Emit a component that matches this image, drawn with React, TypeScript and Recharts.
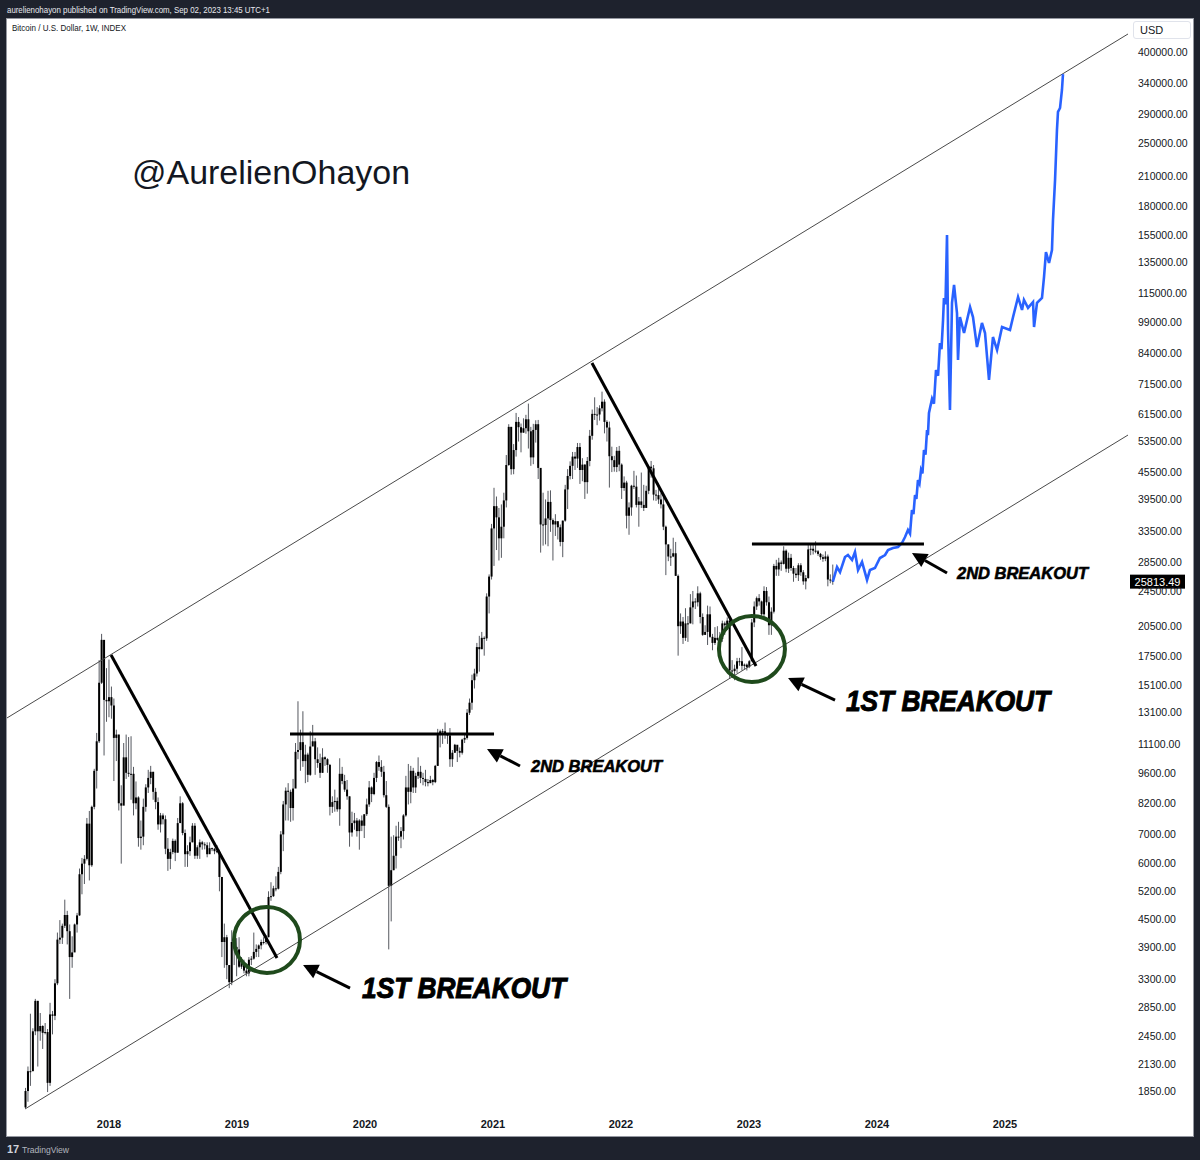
import React from 'react';
import { ComposedChart, Bar, Line, XAxis, YAxis, ReferenceLine, ReferenceDot } from 'recharts';

type HLC = [number, number, number];

// weekly candles [high, low, close]; first week starts Mon 8 May 2017, open = previous close
const firstOpen = 1700;

const weeks2017: HLC[] = [
  [1880, 1690, 1850], [2100, 1750, 2050], [2760, 1900, 2050], [2560, 2050, 2520],
  [2980, 2470, 2950], [2950, 2100, 2520], [2770, 2400, 2590], [2600, 2300, 2500],
  [2630, 2480, 2510], [2550, 1840, 1930], [2920, 1900, 2750], [2800, 2480, 2730], [3300, 2670, 3230],
  [4200, 3200, 4050], [4480, 3960, 4090], [4400, 3960, 4350], [4980, 4300, 4600],
  [4700, 3950, 4230], [4380, 2980, 3700], [4120, 3500, 3790], [4400, 3850, 4380],
  [4650, 4200, 4590], [5850, 4580, 5680], [6180, 5120, 6000], [6270, 5400, 6150], [7600, 6100, 7380],
  [7880, 5500, 5950], [8100, 5900, 8050], [9800, 7950, 9700], [11800, 8850, 11300],
  [17200, 11200, 15300], [19700, 15200, 19100], [19000, 10500, 14000], [16500, 12500, 13900],
];

const weeks2018: HLC[] = [
  [17250, 12800, 14200], [15000, 12700, 13600], [14100, 9200, 11500], [12000, 10200, 11700], [11700, 7900, 8200],
  [9000, 6000, 8100], [11200, 8200, 10400], [11700, 9300, 9600], [11550, 9400, 9550],
  [11600, 8350, 9550], [9900, 7700, 8200], [9180, 7950, 8450], [8500, 6550, 6850],
  [7500, 6450, 6900], [8400, 6600, 8050], [9050, 7850, 8900], [9750, 8650, 9350], [9950, 9050, 9650],
  [9650, 8350, 8700], [8880, 7950, 8250], [8450, 7150, 7350], [7800, 7050, 7700],
  [7780, 7350, 7550], [7700, 6300, 6480], [6850, 5780, 6150], [6480, 5830, 6370],
  [6830, 6300, 6750], [6800, 6080, 6350], [7600, 6350, 7400], [8500, 7450, 8200], [8250, 6950, 7030],
  [7160, 5900, 6300], [6600, 5900, 6400], [6900, 6250, 6700], [7400, 6700, 7300],
  [7400, 6150, 6250], [6600, 6150, 6530], [6800, 6150, 6700], [6750, 6450, 6630],
  [6700, 6460, 6600], [6700, 6200, 6300], [6700, 6400, 6500], [6520, 6400, 6480], [6500, 6300, 6400],
  [6600, 6330, 6380], [6450, 5200, 5600], [5600, 3700, 4000], [4400, 3500, 4100],
  [4150, 3300, 3550], [3550, 3150, 3250], [4250, 3200, 4000], [4200, 3550, 3900], [4080, 3350, 3850],
];

const weeks2019: HLC[] = [
  [4100, 3500, 3520], [3700, 3480, 3600], [3650, 3400, 3450], [3500, 3350, 3400],
  [3700, 3350, 3650], [3720, 3550, 3670], [4200, 3650, 3800], [3950, 3700, 3860],
  [3950, 3700, 3930], [4050, 3850, 4000], [4100, 3950, 4000], [4150, 3950, 4100],
  [5200, 4100, 5050], [5450, 4950, 5070], [5350, 5050, 5280], [5620, 5200, 5270], [5900, 5250, 5750],
  [7100, 5680, 6980], [8300, 6400, 8150], [8900, 7500, 8750], [9100, 7500, 8700],
  [8800, 7450, 8000], [9300, 7500, 8850], [11200, 8900, 10700], [13900, 10300, 10800],
  [12000, 9700, 11250], [13200, 9900, 10200], [11100, 9100, 10550], [10650, 9150, 9500], [11900, 9450, 11000],
  [12300, 11100, 11300], [11500, 9500, 10300], [10950, 9850, 10100], [10600, 9350, 9600],
  [10900, 9600, 10400], [10450, 9950, 10300], [10350, 9600, 10000], [10050, 7700, 8050], [8500, 7800, 8250],
  [8800, 7850, 8300], [8450, 7850, 7950], [10350, 7300, 9550], [9900, 9050, 9200],
  [9500, 8700, 8800], [9250, 8350, 8500], [8500, 6550, 7050], [7850, 6900, 7400],
  [7800, 7150, 7500], [7600, 6900, 7100], [7550, 6450, 7500], [7700, 7100, 7300], [7700, 6850, 7750],
];

const weeks2020: HLC[] = [
  [8400, 7680, 8150], [9200, 8050, 8900], [8950, 8250, 8600], [9600, 8550, 9350],
  [10200, 9150, 10150], [10500, 9700, 9900], [10250, 9400, 9650], [9950, 8450, 8550],
  [9200, 8000, 8050], [8150, 3850, 5350], [6900, 4450, 5800], [6950, 5800, 6250], [7300, 5850, 6900],
  [7450, 6750, 6900], [7250, 6500, 7100], [7750, 6800, 7700], [9450, 7650, 8900],
  [10050, 8150, 8700], [9950, 8200, 9700], [9850, 8650, 8900], [9600, 8650, 9450],
  [10400, 9300, 9650], [9950, 9100, 9350], [9600, 9000, 9300], [9750, 8950, 9150], [9300, 8950, 9100],
  [9450, 9100, 9250], [9300, 9000, 9150], [10000, 9100, 9950], [12050, 9950, 11750],
  [12000, 10950, 11900], [12050, 11150, 11900], [12450, 11450, 11700], [11750, 11150, 11650], [12100, 9900, 10300],
  [10800, 9900, 10650], [11150, 10650, 11100], [10950, 10150, 10750], [10950, 10400, 10650],
  [11450, 10550, 11400], [11700, 11200, 11500], [13350, 11400, 13100], [14100, 12950, 13800],
  [15950, 13300, 15500], [16450, 14850, 16050], [18800, 15800, 18400], [19500, 16200, 18200], [19900, 18200, 19300],
  [19450, 17600, 19250], [24300, 19000, 23900], [26800, 21900, 26500], [34800, 26100, 34000],
];

const weeks2021: HLC[] = [
  [41950, 28000, 38150], [40100, 30400, 36000], [37800, 28800, 32300], [38500, 29200, 34300],
  [40900, 32300, 39300], [49700, 37900, 47200], [58300, 47000, 57500], [57500, 44900, 46200],
  [52600, 45000, 51000], [61800, 49300, 59000], [60500, 53300, 57400], [58500, 50400, 55800], [60100, 55800, 57100],
  [61200, 55500, 59800], [64850, 51400, 56200], [57500, 47000, 49100], [58400, 47400, 56600],
  [59500, 53000, 58300], [59600, 43900, 46500], [45900, 30000, 34700], [40900, 31100, 34600], [39500, 31300, 35800],
  [41300, 31000, 39000], [41400, 33400, 35500], [35800, 28800, 34700], [36600, 32700, 35300],
  [35100, 32100, 34200], [34700, 31000, 31700], [35400, 29300, 35400], [42600, 35200, 41600],
  [46200, 37600, 44600], [48100, 43800, 47000], [50500, 43900, 49300], [50500, 46000, 48800], [52900, 46500, 51800],
  [52900, 42800, 46000], [48900, 43400, 47300], [47400, 39600, 43200], [49200, 40700, 48200],
  [56600, 46900, 54900], [62900, 53800, 61500], [67000, 59600, 61300], [63700, 58000, 61300],
  [64300, 59400, 63300], [69000, 62300, 65500], [66300, 55600, 59000], [59500, 53300, 57300], [59100, 42000, 49400],
  [51900, 45500, 48400], [49500, 45600, 46700], [51800, 45500, 50800], [52100, 45700, 47300],
];

const weeks2022: HLC[] = [
  [47600, 39600, 41900], [44500, 41300, 43100], [43500, 34000, 36300], [38900, 32900, 37900], [42600, 36300, 42400],
  [45800, 41700, 42200], [44700, 37900, 38400], [40000, 34300, 39100], [45400, 37800, 38400],
  [42600, 37200, 37800], [42400, 38300, 41300], [46900, 40600, 46800], [48200, 44200, 46400],
  [47200, 39300, 40500], [41500, 39200, 40400], [42900, 38600, 39500], [40800, 37700, 38500],
  [40000, 33700, 34300], [34500, 26700, 31300], [31300, 28700, 29400], [30600, 28000, 29400], [32400, 29300, 29900],
  [31700, 26600, 26600], [26800, 17600, 20500], [21900, 19700, 21000], [21500, 18700, 19300],
  [22500, 19000, 20800], [21600, 18900, 20800], [24200, 20800, 22600], [24600, 20700, 23300],
  [23700, 22400, 23200], [25200, 22700, 24300], [24500, 20800, 21500], [21900, 19500, 19600], [20600, 19600, 19900],
  [22800, 18600, 21800], [22700, 19300, 19400], [19700, 18100, 18800], [20400, 18600, 19300],
  [20500, 19000, 19100], [19900, 18200, 19200], [21100, 18900, 20800], [21000, 19600, 20600], [21450, 20100, 21100],
  [21400, 15600, 16300], [17200, 15800, 16250], [16800, 15500, 16450], [17400, 16100, 17100],
  [17400, 16700, 17100], [18400, 16300, 16700], [16900, 16400, 16800], [16900, 16300, 16600],
];

const weeks2023: HLC[] = [
  [17200, 16500, 17100], [21300, 17100, 20900], [23300, 20400, 22700], [23900, 22300, 23700], [24200, 22800, 23300],
  [23400, 21400, 21800], [25200, 21500, 24600], [25100, 22800, 23200], [23900, 19600, 20600],
  [22600, 19600, 22100], [28300, 21900, 28000], [28900, 26600, 27500], [29200, 26600, 28500],
  [28800, 27300, 28300], [31000, 28200, 30300], [30500, 27100, 27600], [30000, 27000, 29200],
  [29800, 27300, 27700], [28000, 25800, 26900], [27700, 26300, 26700], [28400, 25900, 28100], [28400, 26600, 27100],
  [27400, 25400, 25850], [26700, 24800, 26300], [31400, 26200, 30500], [31300, 29600, 30600],
  [31500, 29700, 30300], [31800, 29900, 30200], [30400, 29500, 29800], [29950, 28900, 29300], [29700, 28600, 29050],
  [30200, 28700, 29400], [29700, 25200, 26100], [26800, 25600, 26000], [28200, 25400, 25813.49],
];

// projected path [year, price]
const projection: [number, number][] = [
  [2023.688, 27840], [2023.711, 27130], [2023.75, 29330], [2023.773, 29630], [2023.805, 28870],
  [2023.828, 30100], [2023.852, 27410], [2023.883, 28580], [2023.922, 26040], [2023.945, 27410],
  [2023.984, 27700], [2024.023, 29170], [2024.063, 29630], [2024.086, 30410], [2024.125, 30730],
  [2024.164, 30890], [2024.195, 31530], [2024.219, 32520], [2024.242, 33720], [2024.258, 33100],
  [2024.273, 37400], [2024.285, 36600], [2024.297, 40420], [2024.308, 39600], [2024.32, 43680],
  [2024.332, 42900], [2024.344, 46000], [2024.355, 45200], [2024.367, 51020], [2024.379, 49800],
  [2024.391, 56560], [2024.398, 55100], [2024.406, 61780], [2024.43, 66500], [2024.445, 64800],
  [2024.461, 77180], [2024.477, 74900], [2024.492, 88740], [2024.504, 86000], [2024.516, 99960],
  [2024.523, 112000], [2024.535, 108500], [2024.547, 155200], [2024.555, 94920], [2024.57, 62750],
  [2024.586, 109200], [2024.602, 119800], [2024.625, 103600], [2024.633, 81270], [2024.648, 101500],
  [2024.68, 93460], [2024.727, 106900], [2024.75, 101500], [2024.781, 86920], [2024.82, 98420],
  [2024.844, 93460], [2024.875, 73290], [2024.906, 91540], [2024.938, 85580], [2024.977, 96410],
  [2025.039, 94920], [2025.063, 101500], [2025.102, 112600], [2025.133, 105300], [2025.148, 110900],
  [2025.18, 106400], [2025.219, 109700], [2025.227, 96410], [2025.25, 109200], [2025.289, 112000],
  [2025.305, 124900], [2025.32, 142100], [2025.344, 134300], [2025.367, 143600], [2025.375, 167700],
  [2025.391, 206200], [2025.406, 267200], [2025.414, 293300], [2025.43, 299400], [2025.445, 328600],
  [2025.453, 356900],
];

const yearTicks = [2018, 2019, 2020, 2021, 2022, 2023, 2024, 2025];
const priceTicks = [
  400000, 340000, 290000, 250000, 210000, 180000, 155000, 135000, 115000, 99000, 84000, 71500,
  61500, 53500, 45500, 39500, 33500, 28500, 24500, 20500, 17500, 15100, 13100, 11100, 9600, 8200,
  7000, 6000, 5200, 4500, 3900, 3300, 2850, 2450, 2130, 1850,
];
const lastPrice = 25813.49;

// drawings, points as [year, price]
const channelLines = [
  [[2017.203, 12750], [2025.961, 439100]],
  [[2017.344, 1686], [2025.961, 55120]],
];
const trendLines = [
  [[2018.016, 17660], [2019.3125, 3682]],
  [[2019.414, 11735], [2021.008, 11735]],
  [[2021.773, 80020], [2023.055, 16690]],
  [[2023.023, 31360], [2024.367, 31360]],
];
const circles = [[2019.234, 4042], [2023.023, 18220]];
const arrows = [
  [[2019.883, 3152], [2019.516, 3552]],
  [[2021.211, 9944], [2020.953, 10860]],
  [[2023.672, 13990], [2023.305, 15680]],
  [[2024.547, 26990], [2024.273, 29940]],
];
const notes = [
  { t: 2019.977, v: 3152, text: '1ST BREAKOUT', big: true },
  { t: 2021.297, v: 9944, text: '2ND BREAKOUT', big: false },
  { t: 2023.758, v: 13920, text: '1ST BREAKOUT', big: true },
  { t: 2024.625, v: 26990, text: '2ND BREAKOUT', big: false },
];
const signature = { t: 2018.18, v: 215000, text: '@AurelienOhayon' };

const START = Date.UTC(2017, 4, 8);
const toYear = (ms: number) => {
  const y = new Date(ms).getUTCFullYear();
  const a = Date.UTC(y, 0, 1);
  const b = Date.UTC(y + 1, 0, 1);
  return y + (ms - a) / (b - a);
};

const allWeeks = [...weeks2017, ...weeks2018, ...weeks2019, ...weeks2020, ...weeks2021, ...weeks2022, ...weeks2023];
const rows: any[] = allWeeks.map(([h, l, c], i) => ({
  t: toYear(START + i * 7 * 864e5),
  o: i === 0 ? firstOpen : allWeeks[i - 1][2],
  h,
  l,
  c,
  range: [l, h],
}));
rows[rows.length - 1].proj = lastPrice;
projection.forEach(([t, v]) => rows.push({ t, proj: v }));

const Candle = (props: any) => {
  const { x, y, width, height, payload } = props;
  if (!payload || payload.h == null || x == null) return null;
  const top = Math.min(y, y + height);
  const bot = Math.max(y, y + height);
  const lh = Math.log(payload.h);
  const ll = Math.log(payload.l);
  const py = (v: number) => (lh === ll ? top : top + ((bot - top) * (lh - Math.log(v))) / (lh - ll));
  const cx = x + width / 2;
  const b1 = py(Math.max(payload.o, payload.c));
  const b2 = py(Math.min(payload.o, payload.c));
  return (
    <g>
      <line x1={cx} x2={cx} y1={top} y2={bot} stroke="#55585f" strokeWidth={1} />
      <rect x={cx - 1} y={b1} width={2} height={Math.max(1, b2 - b1)} fill="#000" />
    </g>
  );
};

const Arrow = (p: any) => {
  const { x1, y1, x2, y2 } = p;
  const ang = Math.atan2(y2 - y1, x2 - x1);
  const len = 15;
  const w = 7.5;
  const bx = x2 - len * Math.cos(ang);
  const by = y2 - len * Math.sin(ang);
  const nx = -Math.sin(ang) * w;
  const ny = Math.cos(ang) * w;
  return (
    <g>
      <line x1={x1} y1={y1} x2={bx} y2={by} stroke="#000" strokeWidth={3} />
      <polygon points={`${x2},${y2} ${bx + nx},${by + ny} ${bx - nx},${by - ny}`} fill="#000" />
    </g>
  );
};

const noteShape = (text: string, big: boolean) => (p: any) => (
  <text
    x={p.cx}
    y={p.cy}
    dominantBaseline="central"
    fontFamily="'Liberation Sans', Arial, sans-serif"
    fontWeight={700}
    fontStyle="italic"
    fontSize={big ? 29 : 17}
    textLength={big ? 204 : 131}
    lengthAdjust="spacingAndGlyphs"
    fill="#000"
    stroke="#000"
    strokeWidth={big ? 1 : 0.6}
  >
    {text}
  </text>
);

const signatureShape = (p: any) => (
  <text
    x={p.cx}
    y={p.cy}
    dominantBaseline="central"
    fontFamily="'Liberation Sans', Arial, sans-serif"
    fontSize={34}
    textLength={278}
    lengthAdjust="spacingAndGlyphs"
    fill="#131722"
  >
    {signature.text}
  </text>
);

const priceTag = (p: any) => (
  <g>
    <rect x={p.cx + 2} y={p.cy - 7} width={55} height={14} fill="#000" />
    <text x={p.cx + 29.5} y={p.cy} dominantBaseline="central" textAnchor="middle" fontSize={11}
      fontFamily="'Liberation Sans', Arial, sans-serif" fill="#fff">
      {lastPrice.toFixed(2)}
    </text>
  </g>
);

const App = () => {
  return (
    <div style={{ position: 'absolute', left: 0, top: 0, width: 1200, height: 1160, background: '#1e222d', fontFamily: "'Liberation Sans', Arial, sans-serif" }}>
      <svg style={{ position: 'absolute', left: 0, top: 0 }} width={400} height={18}>
        <text x={7} y={12.5} fontSize={9.5} fill="#e8e9ee" textLength={263} lengthAdjust="spacingAndGlyphs">
          aurelienohayon published on TradingView.com, Sep 02, 2023 13:45 UTC+1
        </text>
      </svg>
      <div style={{ position: 'absolute', left: 6, top: 18, width: 1188, height: 1119, background: '#fff', border: '1px solid #9598a1', boxSizing: 'border-box' }} />
      <svg style={{ position: 'absolute', left: 0, top: 18 }} width={200} height={20}>
        <text x={12} y={13} fontSize={9} fill="#131722" textLength={114} lengthAdjust="spacingAndGlyphs">
          Bitcoin / U.S. Dollar, 1W, INDEX
        </text>
      </svg>
      <div style={{ position: 'absolute', left: 7, top: 19 }}>
        <ComposedChart width={1186} height={1117} data={rows} margin={{ top: 0, right: 0, bottom: 0, left: 0 }}>
          <XAxis
            dataKey="t"
            type="number"
            domain={[2017.203, 2025.961]}
            allowDataOverflow
            ticks={yearTicks}
            interval={0}
            axisLine={false}
            tickLine={false}
            tickSize={0}
            tickMargin={10}
            height={26}
            tick={{ fontSize: 11, fontWeight: 700, fill: '#131722' }}
          />
          <YAxis
            orientation="right"
            type="number"
            scale="log"
            domain={[1677, 474500]}
            allowDataOverflow
            ticks={priceTicks}
            interval={0}
            width={65}
            axisLine={false}
            tickLine={false}
            tickSize={0}
            tickMargin={10}
            tick={{ fontSize: 10.5, fill: '#131722' }}
            tickFormatter={(v: number) => v.toFixed(2)}
          />
          {channelLines.map((s, i) => (
            <ReferenceLine key={'ch' + i} segment={[{ x: s[0][0], y: s[0][1] }, { x: s[1][0], y: s[1][1] }]}
              stroke="#4a4a4a" strokeWidth={1} ifOverflow="visible" />
          ))}
          <Bar dataKey="range" barSize={2} shape={Candle} isAnimationActive={false} />
          <Line dataKey="proj" stroke="#2962ff" strokeWidth={2.6} strokeLinejoin="miter" dot={false} activeDot={false}
            connectNulls isAnimationActive={false} />
          {trendLines.map((s, i) => (
            <ReferenceLine key={'tl' + i} segment={[{ x: s[0][0], y: s[0][1] }, { x: s[1][0], y: s[1][1] }]}
              stroke="#000" strokeWidth={3} ifOverflow="visible" />
          ))}
          {circles.map((c, i) => (
            <ReferenceDot key={'c' + i} x={c[0]} y={c[1]} r={33} fill="none" stroke="#1f4a1c" strokeWidth={4}
              ifOverflow="visible" />
          ))}
          {arrows.map((a, i) => (
            <ReferenceLine key={'a' + i} segment={[{ x: a[0][0], y: a[0][1] }, { x: a[1][0], y: a[1][1] }]}
              ifOverflow="visible" shape={Arrow} />
          ))}
          {notes.map((n, i) => (
            <ReferenceDot key={'n' + i} x={n.t} y={n.v} r={0} ifOverflow="visible" shape={noteShape(n.text, n.big)} />
          ))}
          <ReferenceDot x={signature.t} y={signature.v} r={0} ifOverflow="visible" shape={signatureShape} />
          <ReferenceDot x={2025.961} y={lastPrice} r={0} ifOverflow="visible" shape={priceTag} />
        </ComposedChart>
      </div>
      <div style={{ position: 'absolute', left: 1133, top: 21, width: 58, height: 18, border: '1px solid #e0e3eb', borderRadius: 3, boxSizing: 'border-box', background: '#fff', fontSize: 11, color: '#131722', lineHeight: '16px', paddingLeft: 6 }}>
        USD
      </div>
      <svg style={{ position: 'absolute', left: 0, top: 1138 }} width={120} height={20}>
        <text x={7} y={15} fontSize={11} fontWeight={900} fill="#d1d4dc">17</text>
        <text x={22} y={15} fontSize={9.5} fill="#b2b5be" textLength={47} lengthAdjust="spacingAndGlyphs">TradingView</text>
      </svg>
    </div>
  );
};

export default App;
